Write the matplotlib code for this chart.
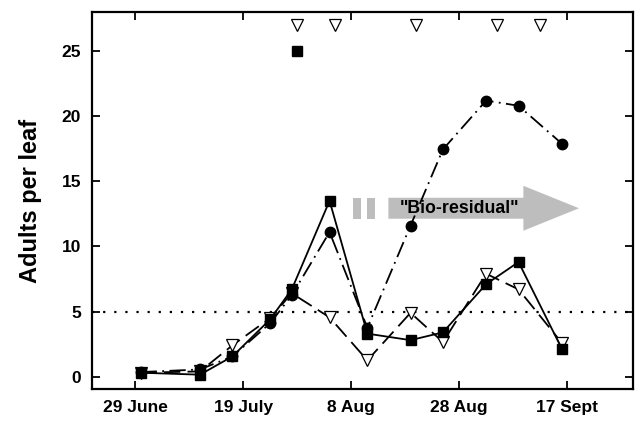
import matplotlib
matplotlib.use("Agg")
import matplotlib.pyplot as plt
from matplotlib.patches import FancyArrow, Rectangle

plt.rcParams['font.family'] = ['Liberation Sans', 'DejaVu Sans']

# days after 29 June
days = [1, 12, 18, 25, 29, 36, 43, 51, 57, 65, 71, 79]
squares = [0.3, 0.15, 1.55, 4.4, 6.7, 13.5, 3.3, 2.8, 3.4, 7.1, 8.8, 2.15]
circles = [0.35, 0.55, 1.55, 4.1, 6.25, 11.1, 3.75, 11.6, 17.45, 21.2, 20.8, 17.9]
triangles = [0.3, 0.4, 2.4, 4.5, 6.4, 4.55, 1.25, 4.9, 2.65, 7.9, 6.7, 2.6]

spray_days = [30, 37, 52, 67, 75]
spray_level = [27, 27, 27, 27, 27]
extra_sq_day = [30]
extra_sq_val = [25]

threshold = 5
tick_days = [0, 20, 40, 60, 80]
tick_labels = ['29 June', '19 July', '8 Aug', '28 Aug', '17 Sept']
yticks = [0, 5, 10, 15, 20, 25]

fig = plt.figure(figsize=(6.35, 4.21), dpi=100)
ax = fig.add_axes([92/635, 1 - 389/421, (633-92)/635, (389-12)/421])

ax.axhline(threshold, color='black', linestyle=(0, (1, 4)), linewidth=1.6, zorder=1)

ax.plot(days, triangles, color='black', linestyle=(0, (9, 4)), linewidth=1.3,
        marker='v', markersize=8, markerfacecolor='white', markeredgecolor='black',
        markeredgewidth=0.9, zorder=3)
ax.plot(days, circles, color='black', linestyle=(0, (9, 3, 1, 3)), linewidth=1.3,
        marker='o', markersize=7.5, markerfacecolor='black', zorder=4)
ax.plot(days, squares, color='black', linestyle='-', linewidth=1.3,
        marker='s', markersize=7, markerfacecolor='black', zorder=5)

ax.plot(spray_days, spray_level, linestyle='none', marker='v', markersize=8,
        markerfacecolor='white', markeredgecolor='black', markeredgewidth=0.9)
ax.plot(extra_sq_day, extra_sq_val, linestyle='none', marker='s', markersize=7,
        color='black')

gray = '#bdbdbd'
ax.add_patch(Rectangle((40.4, 12.12), 1.5, 1.61, facecolor=gray, edgecolor='none', zorder=2))
ax.add_patch(Rectangle((43.0, 12.12), 1.4, 1.61, facecolor=gray, edgecolor='none', zorder=2))
ax.add_patch(FancyArrow(46.9, 12.93, 35.3, 0, width=1.61, head_width=3.45,
                        head_length=10.3, length_includes_head=True,
                        facecolor=gray, edgecolor='none', zorder=2))
ax.text(60.0, 12.93, '"Bio-residual"', ha='center', va='center',
        fontsize=12.8, fontweight='bold', zorder=6)

ax.set_xlim(-8, 92.2)
ax.set_ylim(-0.95, 28)
ax.set_xticks(tick_days)
ax.set_xticklabels(tick_labels)
ax.set_yticks(yticks)
ax.tick_params(direction='in', length=6, width=1.3, top=True, right=True,
               labelsize=12.5, pad=8)
for lab in ax.get_xticklabels() + ax.get_yticklabels():
    lab.set_fontweight('bold')
for s in ax.spines.values():
    s.set_linewidth(1.6)
ax.set_ylabel('Adults per leaf', fontsize=17, fontweight='bold', labelpad=14)

fig.savefig('out.png', dpi=100)
